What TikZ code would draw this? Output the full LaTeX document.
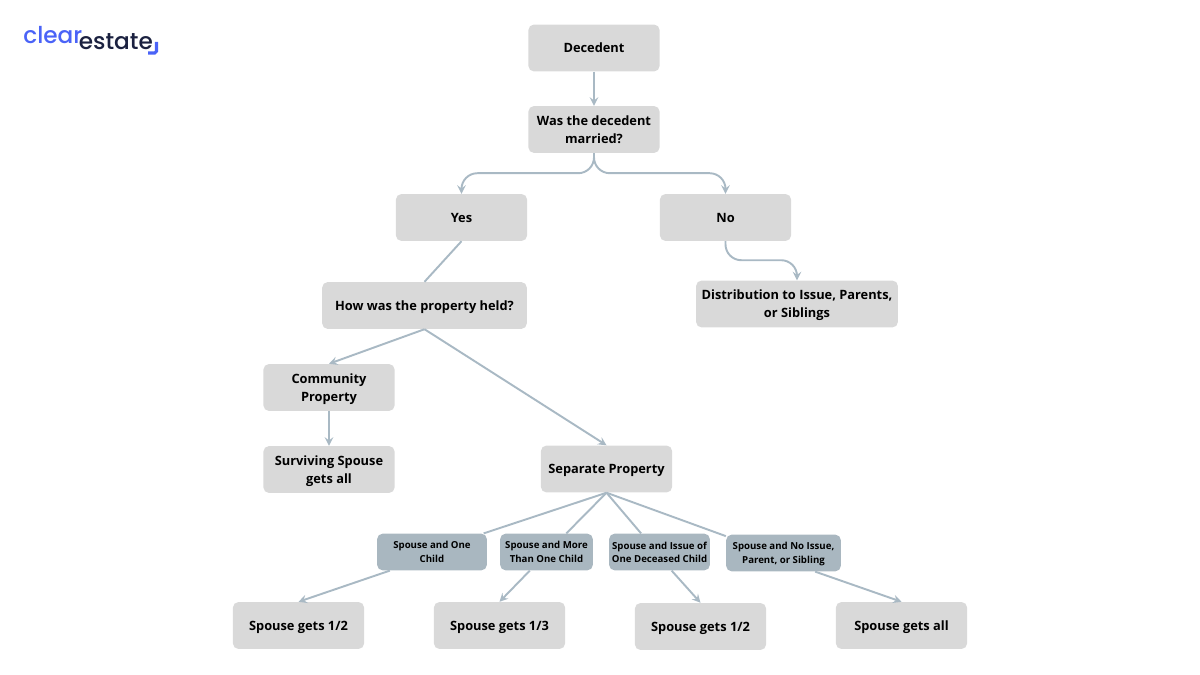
\documentclass[tikz,border=0pt]{standalone}
\usepackage{fontspec}
\setmainfont{Open Sans}
\newfontfamily\logofont[UprightFont=* Medium]{Poppins}
\definecolor{boxgray}{HTML}{D9D9D9}
\definecolor{boxslate}{HTML}{A9B7C0}
\definecolor{linkblue}{HTML}{A9B9C4}
\definecolor{logoblue}{HTML}{4A63F7}
\definecolor{logonavy}{HTML}{1B2140}
\tikzset{
  bigbox/.style={fill=boxgray, rounded corners=3pt, inner sep=0pt, align=center, text=black, text depth=0pt,
    minimum width=74.6pt, minimum height=26.6pt, font=\fontsize{7.3}{10.2}\selectfont\bfseries},
  smallbox/.style={fill=boxslate, rounded corners=3pt, inner sep=0pt, align=center, text=black, text depth=0pt,
    minimum height=20.8pt, font=\fontsize{5.5}{7.6}\selectfont\bfseries},
  link/.style={draw=linkblue, line width=1.1pt},
  arrowlink/.style={link, ->, >=stealth}
}
\begin{document}
\begin{tikzpicture}[x=0.02cm, y=-0.02cm]
  \useasboundingbox (0,0) rectangle (1200,675);
  % logo
  \node [anchor=base west, inner sep=0pt, text=logoblue, font=\fontsize{13.2}{13}\logofont] (clear) at (23,44) {clear};
  \node [anchor=base west, inner sep=0pt, text=logonavy, font=\fontsize{13.2}{13}\logofont] (estate) at (78.5,49.5) {estate};
  \coordinate (tickA) at (156.5,42);
  \coordinate (tickB) at (148,53);
  \draw [logoblue, line width=1.8pt, rounded corners=1pt] (tickA) |- (tickB);

  % top of the tree
  \node [bigbox] (decedent) at (594,48) {Decedent};
  \node [bigbox] (married) at (594,129.5) {Was the decedent\\married?};
  \node [bigbox] (yes) at (461.5,217.5) {Yes};
  \node [bigbox] (no) at (725.5,217.5) {No};
  \node [bigbox, minimum width=116.4pt] (held) at (424.5,305.5) {How was the property held?};
  \node [bigbox, minimum width=114.8pt] (distribution) at (797,304) {Distribution to Issue, Parents,\\or Siblings};
  \node [bigbox] (community) at (329,387.5) {Community\\Property};
  \node [bigbox] (surviving) at (329,469.5) {Surviving Spouse\\gets all};
  \node [bigbox] (separate) at (606.5,469) {Separate Property};

  % the four cases
  \node [smallbox, minimum width=62.4pt] (oneChild) at (432,552) {Spouse and One\\Child};
  \node [smallbox, minimum width=52.7pt] (moreChild) at (546.5,552) {Spouse and More\\Than One Child};
  \node [smallbox, minimum width=57.3pt] (deceased) at (659.5,552) {Spouse and Issue of\\One Deceased Child};
  \node [smallbox, minimum width=65.2pt] (noIssue) at (783.5,553) {Spouse and No Issue,\\Parent, or Sibling};

  % results
  \node [bigbox] (half) at (298.5,625.5) {Spouse gets 1/2};
  \node [bigbox] (third) at (499.5,625.5) {Spouse gets 1/3};
  \node [bigbox] (halfB) at (700.5,626.5) {Spouse gets 1/2};
  \node [bigbox] (all) at (901.5,625.5) {Spouse gets all};

  \draw [arrowlink] (decedent) -- (married);
  \draw [arrowlink, rounded corners=9pt] (married.south) -- ++(0,20) -| (yes.north);
  \draw [arrowlink, rounded corners=9pt] (married.south) -- ++(0,20) -| (no.north);
  \draw [link] (yes.south) -- (held.north);
  \draw [arrowlink, rounded corners=9pt] (no.south) -- ++(0,19) -| (distribution.north);
  \draw [arrowlink] (held.south) -- (community.north);
  \draw [arrowlink] (held.south) -- (separate.north);
  \draw [arrowlink] (community) -- (surviving);
  \draw [link] (separate.south) -- ([xshift=-2pt]oneChild.north east);
  \draw [link] (separate.south) -- ([xshift=11.3pt]moreChild.north);
  \draw [link] (separate.south) -- ([xshift=-10.5pt]deceased.north);
  \draw [link] (separate.south) -- ([yshift=-1pt]noIssue.north west);
  \draw [arrowlink] ([xshift=-24pt]oneChild.south) -- (half.north);
  \draw [arrowlink] ([xshift=-9.5pt]moreChild.south) -- (third.north);
  \draw [arrowlink] ([xshift=6.9pt]deceased.south) -- (halfB.north);
  \draw [arrowlink] ([xshift=18pt]noIssue.south) -- (all.north);
\end{tikzpicture}
\end{document}
